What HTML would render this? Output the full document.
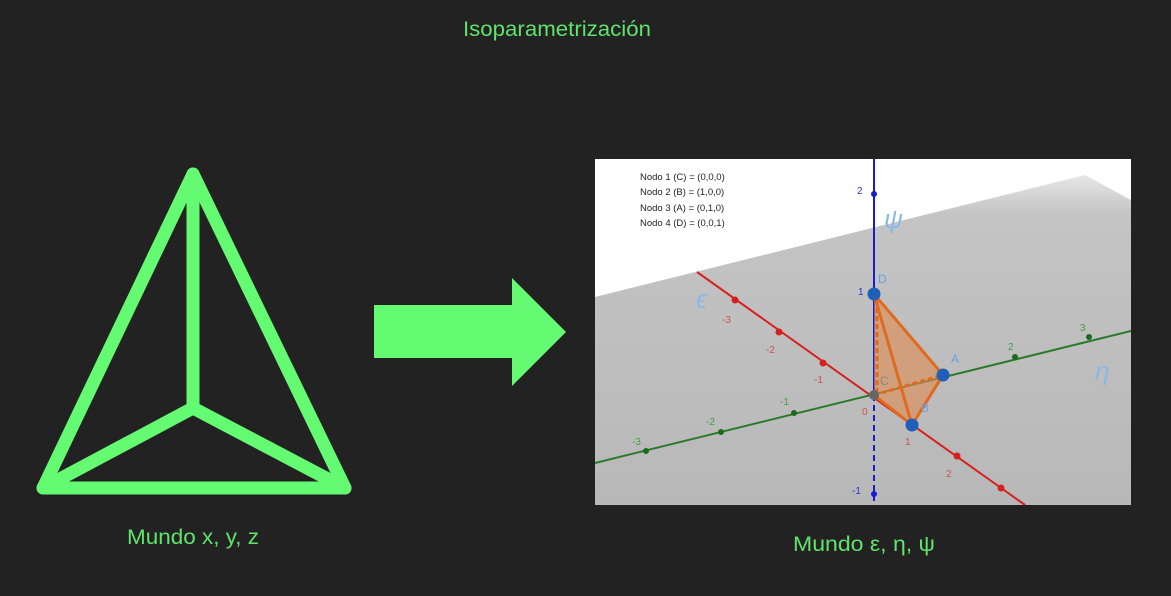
<!DOCTYPE html>
<html><head><meta charset="utf-8"><style>
html,body{margin:0;padding:0;background:#222222;width:1171px;height:596px;overflow:hidden}
text{font-family:"Liberation Sans",sans-serif}
</style></head><body>
<svg width="1171" height="596" viewBox="0 0 1171 596">
<defs>
<linearGradient id="pl" x1="0" y1="0" x2="0" y2="1">
<stop offset="0" stop-color="#e6e6e6"/><stop offset="0.12" stop-color="#c4c4c4"/><stop offset="1" stop-color="#b8b8b8"/>
</linearGradient>
<clipPath id="cp"><rect x="595" y="159" width="536" height="346"/></clipPath>
</defs>
<text x="557" y="36" text-anchor="middle" font-size="21" fill="#5fe36a" textLength="188" lengthAdjust="spacingAndGlyphs">Isoparametrización</text>

<g stroke="#64fb72" stroke-width="13" fill="none" stroke-linejoin="round" stroke-linecap="round">
<polygon points="193,174 43,488 345,488"/>
<polyline points="193,174 193,408"/>
<polyline points="43,488 193,408 345,488"/>
</g>
<text x="193" y="544" text-anchor="middle" font-size="21" fill="#5fe36a" textLength="132" lengthAdjust="spacingAndGlyphs">Mundo x, y, z</text>

<polygon fill="#64fb72" points="374,305 512,305 512,278 566,332 512,386 512,358 374,358"/>

<g clip-path="url(#cp)">
<rect x="595" y="159" width="536" height="346" fill="#ffffff"/>
<polygon points="595,297 1085,175 1131,200 1131,505 595,505" fill="url(#pl)"/>
<text x="640" y="180" font-size="9.5" fill="#222">Nodo 1 (C) = (0,0,0)</text>
<text x="640" y="195" font-size="9.5" fill="#222">Nodo 2 (B) = (1,0,0)</text>
<text x="640" y="211" font-size="9.5" fill="#222">Nodo 3 (A) = (0,1,0)</text>
<text x="640" y="226" font-size="9.5" fill="#222">Nodo 4 (D) = (0,0,1)</text>
<line x1="697" y1="272" x2="1025" y2="505" stroke="#d62020" stroke-width="2"/>
<line x1="595" y1="463" x2="1131" y2="331" stroke="#2a7a2a" stroke-width="2"/>
<line x1="874" y1="159" x2="874" y2="395" stroke="#1a1ad0" stroke-width="2"/>
<line x1="874" y1="395" x2="874" y2="505" stroke="#1a1ad0" stroke-width="2" stroke-dasharray="6,4"/>
<g fill="#d62020"><circle cx="735" cy="300" r="3.5"/><circle cx="779" cy="332" r="3.5"/><circle cx="823" cy="363" r="3.5"/><circle cx="957" cy="456" r="3.5"/><circle cx="1001" cy="488" r="3.5"/></g>
<g fill="#1e6a1e"><circle cx="646" cy="451" r="3"/><circle cx="721" cy="432" r="3"/><circle cx="794" cy="413" r="3"/><circle cx="1015" cy="357" r="3"/><circle cx="1089" cy="337" r="3"/></g>
<circle cx="874" cy="194" r="3" fill="#1a1ad0"/><circle cx="874" cy="494" r="3" fill="#1a1ad0"/>
<polygon points="874,294 874,395 912,425 943,375" fill="#e08a50" opacity="0.6"/>
<g stroke="#e06a20" stroke-width="3" fill="none">
<polyline points="874,294 912,425 943,375 874,294"/>
<line x1="874" y1="395" x2="912" y2="425"/>
<line x1="874" y1="395" x2="943" y2="375" stroke-dasharray="5,3"/>
<line x1="877" y1="300" x2="877" y2="395" stroke-dasharray="5,3"/>
</g>
<circle cx="874" cy="294" r="6.5" fill="#1f5fb8"/>
<circle cx="943" cy="375" r="6.5" fill="#1f5fb8"/>
<circle cx="912" cy="425" r="6.5" fill="#1f5fb8"/>
<circle cx="874" cy="395" r="5" fill="#666"/>
<g font-size="10" fill="#d05050"><text x="722" y="323">-3</text><text x="766" y="353">-2</text><text x="814" y="383">-1</text><text x="862" y="415">0</text><text x="905" y="445">1</text><text x="946" y="477">2</text></g>
<g font-size="10" fill="#40a040"><text x="632" y="445">-3</text><text x="706" y="425">-2</text><text x="780" y="405">-1</text><text x="1008" y="350">2</text><text x="1080" y="331">3</text></g>
<g font-size="10" fill="#3030d0"><text x="857" y="194">2</text><text x="858" y="295">1</text><text x="852" y="494">-1</text></g>
<g font-size="12" fill="#6aa0e0"><text x="878" y="283">D</text><text x="951" y="363">A</text><text x="921" y="412">B</text><text x="880" y="385" fill="#888">C</text></g>
<g font-family="Liberation Serif,serif" font-style="italic" font-size="26" fill="#8ab8e8"><text x="696" y="308">ϵ</text><text x="884" y="228">ψ</text><text x="1095" y="380">η</text></g>
</g>
<text x="864" y="551" text-anchor="middle" font-size="21" fill="#5fe36a" textLength="142" lengthAdjust="spacingAndGlyphs">Mundo ε, η, ψ</text>
</svg>
</body></html>
